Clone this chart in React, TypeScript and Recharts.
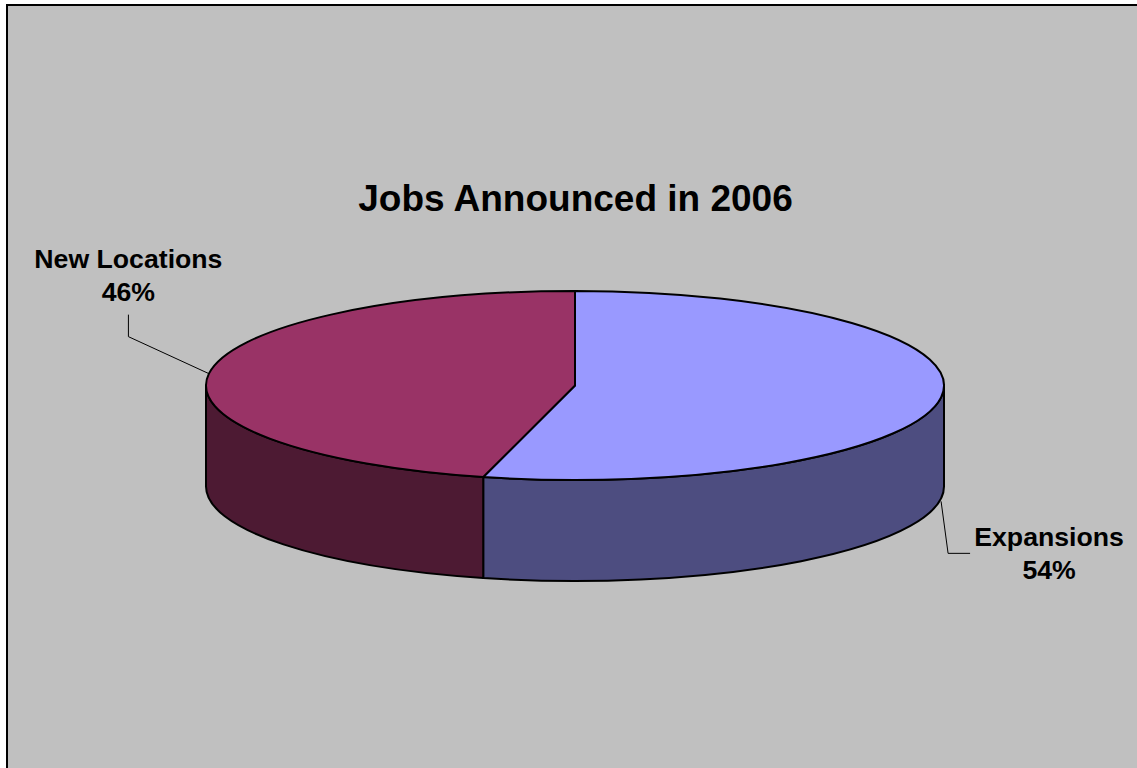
import React from "react";
import { PieChart, Pie, Cell } from "recharts";

const categories = ["Expansions", "New Locations"];
const shares = [54, 46];
const topColors = ["#9999FF", "#993366"];
const wallColors = ["#4D4D80", "#4D1A33"];
const chartTitle = "Jobs Announced in 2006";

const rows = categories.map((name, i) => ({ name, value: shares[i] }));

// The disc is a circle squashed vertically, extruded downward by DEPTH.
const WIDTH = 1137;
const HEIGHT = 768;
const SQUASH = 94.5 / 369;
const DEPTH = 101;
const RAD = Math.PI / 180;
const OUTLINE = 2;

const rim = (cx: number, cy: number, r: number, deg: number, drop = 0) => ({
  x: cx + r * Math.cos(deg * RAD),
  y: cy - r * SQUASH * Math.sin(deg * RAD) + drop,
});

// Draws one slice: the visible part of its side wall plus its top face.
function DiscSlice(props: any) {
  const { cx, cy, outerRadius: r, startAngle, endAngle, index } = props;
  const hi = Math.max(startAngle, endAngle);
  const lo = Math.min(startAngle, endAngle);
  const ry = r * SQUASH;

  const a = rim(cx, cy, r, hi);
  const b = rim(cx, cy, r, lo);
  const large = hi - lo > 180 ? 1 : 0;
  const top = `M${cx},${cy}L${a.x},${a.y}A${r},${ry} 0 ${large} 1 ${b.x},${b.y}Z`;

  // Only the front of the rim, between 0 and -180 degrees, shows a wall.
  const wallHi = Math.min(hi, 0);
  const wallLo = Math.max(lo, -180);
  let wall = "";
  if (wallHi > wallLo) {
    const p = rim(cx, cy, r, wallHi);
    const q = rim(cx, cy, r, wallLo);
    const p2 = rim(cx, cy, r, wallHi, DEPTH);
    const q2 = rim(cx, cy, r, wallLo, DEPTH);
    wall =
      `M${p.x},${p.y}A${r},${ry} 0 0 1 ${q.x},${q.y}` +
      `L${q2.x},${q2.y}A${r},${ry} 0 0 0 ${p2.x},${p2.y}Z`;
  }

  return (
    <g>
      {wall && <path d={wall} fill={wallColors[index]} stroke="#000" strokeWidth={OUTLINE} strokeLinejoin="round" />}
      <path d={top} fill={topColors[index]} stroke="#000" strokeWidth={OUTLINE} strokeLinejoin="round" />
    </g>
  );
}

// Leader elbows and text anchors, relative to where each leader leaves the disc.
const calloutLayout = [
  { drop: DEPTH + 3, elbow: [7, 52], end: [29, 52], text: [108, 45], lineGap: 33 },
  { drop: 0, elbow: [-80.5, -37], end: [-80.5, -59], text: [-80.5, -106], lineGap: 33 },
];

function Callout(props: any) {
  const { cx, cy, outerRadius: r, midAngle, index, name, value } = props;
  const cfg = calloutLayout[index];
  const start = rim(cx, cy, r, midAngle, cfg.drop);
  const pts = [
    [start.x, start.y],
    [start.x + cfg.elbow[0], start.y + cfg.elbow[1]],
    [start.x + cfg.end[0], start.y + cfg.end[1]],
  ];
  const tx = start.x + cfg.text[0];
  const ty = start.y + cfg.text[1];
  return (
    <g>
      <polyline points={pts.map((p) => p.join(",")).join(" ")} fill="none" stroke="#000" strokeWidth={1} />
      <text x={tx} y={ty} textAnchor="middle" fontFamily="Liberation Sans" fontWeight={700} fontSize={26.67} fill="#000">
        {name}
      </text>
      <text x={tx} y={ty + cfg.lineGap} textAnchor="middle" fontFamily="Liberation Sans" fontWeight={700} fontSize={26.67} fill="#000">
        {`${value}%`}
      </text>
    </g>
  );
}

export default function App() {
  return (
    <div style={{ position: "fixed", left: 0, top: 0, width: WIDTH, height: HEIGHT, background: "#fff", overflow: "hidden" }}>
      <div
        style={{
          position: "absolute",
          left: 6,
          top: 4,
          right: 0,
          bottom: 0,
          background: "#C0C0C0",
          borderLeft: "2px solid #000",
          borderTop: "2px solid #000",
        }}
      />
      <div style={{ position: "absolute", left: 0, top: 0 }}>
        <PieChart width={WIDTH} height={HEIGHT} margin={{ top: 0, right: 0, bottom: 0, left: 0 }}>
          <text x={575.5} y={211} textAnchor="middle" fontFamily="Liberation Sans" fontWeight={700} fontSize={37} fill="#000">
            {chartTitle}
          </text>
          <Pie
            data={rows}
            dataKey="value"
            nameKey="name"
            cx={575}
            cy={385.5}
            innerRadius={0}
            outerRadius={369}
            startAngle={90}
            endAngle={-270}
            paddingAngle={0}
            isAnimationActive={false}
            shape={DiscSlice}
            label={Callout}
            labelLine={false}
          >
            {rows.map((r, i) => (
              <Cell key={r.name} fill={topColors[i]} />
            ))}
          </Pie>
        </PieChart>
      </div>
    </div>
  );
}
